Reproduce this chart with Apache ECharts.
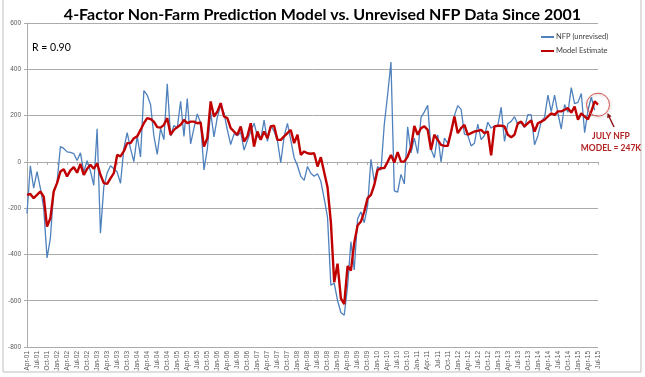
<!DOCTYPE html>
<html><head><meta charset="utf-8">
<script src="https://cdn.jsdelivr.net/npm/echarts@6/dist/echarts.min.js"></script>
<style>html,body{margin:0;padding:0;background:#fff}#c{width:645px;height:377px}</style>
</head><body><div id="c"></div>
<script>
// ---- data ----
const monthNames = ['Jan','Feb','Mar','Apr','May','Jun','Jul','Aug','Sep','Oct','Nov','Dec'];
const firstYear = 2001, firstMonth = 3;   // Apr-01
const lastYear = 2015, lastMonth = 6;     // Jul-15
const yTicks = [-800, -600, -400, -200, 0, 200, 400, 600];

// NFP (unrevised), Apr-01 .. Jun-15
const nfp = [
  -223, -17, -114, -42, -113, -199, -415, -331, -124,
  -89, 66, 58, 43, 41, 36, 6, 39, -43, 5, -40, -101,
  143, -308, -108, -48, -17, -30, -44, -93, 57, 126, 57, 1,
  112, 21, 308, 288, 248, 112, 32, 144, 96, 337, 112, 157,
  146, 262, 110, 274, 78, 146, 207, 169, -35, 56, 215, 108,
  193, 243, 211, 138, 75, 121, 113, 128, 51, 92, 132, 167,
  111, 97, 180, 88, 157, 132, 92, -4, 110, 166, 94, 18,
  -17, -63, -80, -20, -49, -62, -51, -84, -159, -240, -533, -524,
  -598, -651, -663, -539, -345, -467, -247, -216, -263, -190, 11, -85,
  -20, -36, 162, 290, 431, -125, -131, -54, -95, 151, 39, 103,
  36, 192, 216, 244, 54, 18, 117, 0, 103, 80, 120, 200,
  243, 227, 120, 115, 69, 80, 163, 96, 114, 171, 146, 155,
  157, 236, 88, 165, 175, 195, 162, 169, 148, 204, 203, 74,
  113, 175, 192, 288, 217, 288, 209, 142, 248, 214, 321, 252,
  257, 295, 126, 223, 280, 223, null
];

// Model estimate, Apr-01 .. Jul-15
const model = [
  -143, -139, -157, -143, -128, -150, -280, -243, -128,
  -92, -42, -32, -63, -37, -23, -47, -9, -56, -30, -13, -30,
  -6, -56, -92, -95, -71, -49, 30, 24, 46, 81, 81, 102,
  110, 138, 167, 189, 185, 174, 150, 148, 160, 189, 117, 138,
  150, 160, 181, 167, 174, 174, 167, 170, 66, 102, 261, 196,
  217, 254, 196, 189, 146, 131, 117, 153, 88, 110, 167, 66,
  131, 95, 131, 102, 153, 156, 95, 95, 110, 124, 138, 81,
  117, 30, 45, 37, 35, 37, -20, 20, -45, -110, -260, -520,
  -440, -590, -615, -450, -470, -350, -275, -258, -215, -157, -143, -100,
  -35, -27, -27, 0, 30, -3, 42, 1, 1, 23, 62, 155,
  117, 146, 153, 138, 52, 117, 95, 73, 69, 69, 130, 196,
  124, 146, 160, 117, 124, 131, 134, 138, 124, 131, 28, 153,
  156, 156, 153, 117, 106, 117, 167, 174, 153, 167, 179, 131,
  167, 174, 182, 196, 210, 203, 218, 218, 225, 232, 213, 239,
  182, 210, 196, 184, 218, 261, 247
];

const categories = [];
for (let y = firstYear; y <= lastYear; y++) {
  for (let m = 0; m < 12; m++) {
    if (y === firstYear && m < firstMonth) continue;
    if (y === lastYear && m > lastMonth) continue;
    categories.push(monthNames[m] + '-' + String(y % 100).padStart(2, '0'));
  }
}
const lastIdx = categories.length - 1;

const chart = echarts.init(document.getElementById('c'), null, {renderer: 'canvas'});
const gridColor = '#ababab';
chart.setOption({
  animation: false,
  backgroundColor: '#fff',
  title: {
    text: '4-Factor Non-Farm Prediction Model vs. Unrevised NFP Data Since 2001',
    left: 'center', top: 2,
    textStyle: {fontFamily: 'Lato', fontWeight: 'bold', fontSize: 16, color: '#000'}
  },
  legend: {
    orient: 'vertical', left: 535, top: 28,
    itemWidth: 13, itemHeight: 8, itemGap: 6,
    itemStyle: {opacity: 0},
    textStyle: {fontFamily: 'Lato', fontSize: 7.5, color: '#404040', padding: [0, 0, 0, -3]},
    data: ['NFP (unrevised)', 'Model Estimate']
  },
  grid: {left: 27, right: 47, top: 23, bottom: 30, containLabel: false},
  xAxis: [{
    type: 'category', data: categories, boundaryGap: false, position: 'bottom',
    axisLine: {onZero: true, lineStyle: {color: gridColor, width: 1}},
    axisTick: {show: true, interval: 2, length: 3, lineStyle: {color: gridColor}},
    axisLabel: {show: false}, splitLine: {show: false}
  }, {
    type: 'category', data: categories, boundaryGap: false, position: 'bottom',
    axisLine: {onZero: false, show: false},
    axisTick: {show: false},
    axisLabel: {interval: 2, rotate: 90, fontSize: 6.5, fontFamily: 'Liberation Sans', color: '#595959', margin: 4}
  }],
  yAxis: {
    type: 'value', min: yTicks[0], max: yTicks[yTicks.length - 1], interval: 200,
    axisLine: {show: true, lineStyle: {color: gridColor}},
    axisTick: {show: true, length: 3, lineStyle: {color: gridColor}},
    axisLabel: {fontSize: 6.5, fontFamily: 'Liberation Sans', color: '#595959', margin: 6},
    splitLine: {show: true, lineStyle: {color: gridColor, width: 1}}
  },
  series: [{
    name: 'NFP (unrevised)', type: 'line', data: nfp, xAxisIndex: 0,
    symbol: 'none', color: '#4f81bd',
    lineStyle: {color: '#4f81bd', width: 1.3}, z: 2
  }, {
    name: 'Model Estimate', type: 'line', data: model, xAxisIndex: 0,
    symbol: 'none', color: '#c00000',
    lineStyle: {color: '#c00000', width: 2.4}, z: 3,
    markPoint: {
      symbol: 'circle', symbolSize: 23, silent: true,
      itemStyle: {color: 'rgba(255,255,255,0)', borderColor: '#d9534f', borderWidth: 1,
                  shadowColor: 'rgba(0,0,0,0.25)', shadowBlur: 3, shadowOffsetX: 1, shadowOffsetY: 1},
      label: {show: false},
      data: [{coord: [categories[lastIdx], model[lastIdx]]}]
    }
  }],
  graphic: [
    {type: 'rect', shape: {x: 3, y: -2, width: 638, height: 374},
     style: {fill: 'none', stroke: '#bfbfbf', lineWidth: 1}, silent: true, z: -1},
    {type: 'text', left: 32, top: 42,
     style: {text: 'R = 0.90', fontFamily: 'Lato', fontSize: 10.5, fill: '#000'}},
    {type: 'line', shape: {x1: 614, y1: 127, x2: 609, y2: 116.5},
     style: {stroke: '#8b1a1a', lineWidth: 1.5}},
    {type: 'polygon', shape: {points: [[607.5, 113], [611.6, 116.2], [607.2, 118.3]]},
     style: {fill: '#8b1a1a'}},
    {type: 'text', x: 611, y: 132,
     style: {text: 'JULY NFP', fontFamily: 'Lato', fontWeight: 'bold', fontSize: 8.5, fill: '#b22222', textAlign: 'center'}},
    {type: 'text', x: 611, y: 143.5,
     style: {text: 'MODEL = 247K', fontFamily: 'Lato', fontWeight: 'bold', fontSize: 8.5, fill: '#b22222', textAlign: 'center'}}
  ]
});
</script></body></html>
